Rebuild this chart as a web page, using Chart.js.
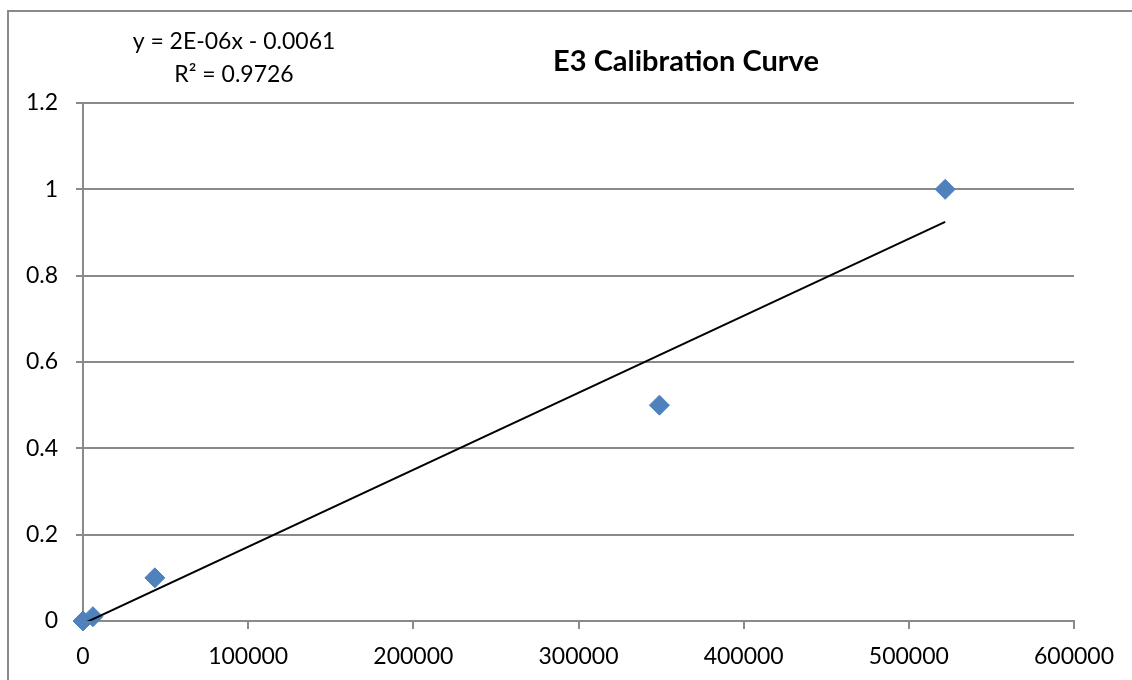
<!DOCTYPE html>
<html>
<head>
<meta charset="utf-8">
<script src="https://cdn.jsdelivr.net/npm/chart.js@4"></script>
<style>
  html, body { margin: 0; padding: 0; background: #fff; }
  #wrap { width: 1132px; height: 680px; position: relative; }
</style>
</head>
<body>
<div id="wrap"><canvas id="myChart"></canvas></div>
<script>
// data
const concentration = [0, 6000, 43500, 349000, 522000];
const response = [0, 0.01, 0.1, 0.5, 1];
const chartTitle = 'E3 Calibration Curve';
const equationText = 'y = 2E-06x - 0.0061';
const rSquaredText = 'R² = 0.9726';

// least squares trendline, like Excel does it
function fitLine(xs, ys) {
    const n = xs.length;
    const mx = xs.reduce((a, b) => a + b, 0) / n;
    const my = ys.reduce((a, b) => a + b, 0) / n;
    let sxy = 0, sxx = 0;
    for (let i = 0; i < n; i++) {
        sxy += (xs[i] - mx) * (ys[i] - my);
        sxx += (xs[i] - mx) * (xs[i] - mx);
    }
    const slope = sxy / sxx;
    return { slope: slope, intercept: my - slope * mx };
}

const fit = fitLine(concentration, response);
const xMin = Math.min(...concentration);
const xMax = Math.max(...concentration);
const trend = [
    { x: xMin, y: fit.slope * xMin + fit.intercept },
    { x: xMax, y: fit.slope * xMax + fit.intercept }
];
const points = concentration.map((x, i) => ({ x: x, y: response[i] }));

const gridGray = '#8a8a8a';
const font = 'Lato';

// frame, title and equation text, drawn on the canvas
const decorations = {
    id: 'decorations',
    afterDraw(chart) {
        const ctx = chart.ctx;
        ctx.save();
        ctx.strokeStyle = gridGray;
        ctx.lineWidth = 2;
        ctx.beginPath();
        ctx.moveTo(8, 680);
        ctx.lineTo(8, 11);
        ctx.lineTo(1132, 11);
        ctx.stroke();

        ctx.fillStyle = '#000';
        ctx.textAlign = 'center';
        ctx.textBaseline = 'middle';
        ctx.font = 'bold 29px ' + font;
        ctx.fillText(chartTitle, 686, 62);
        ctx.font = '23px ' + font;
        ctx.fillText(equationText, 234, 42);
        ctx.fillText(rSquaredText, 234, 75);
        ctx.restore();
    }
};

const ctx = document.getElementById('myChart');

new Chart(ctx, {
    type: 'scatter',
    data: {
        datasets: [{
            label: 'Linear trend',
            data: trend,
            showLine: true,
            borderColor: '#000',
            borderWidth: 2,
            pointRadius: 0,
            order: 0
        }, {
            label: 'E3',
            data: points,
            pointStyle: 'rectRot',
            pointRadius: 10,
            backgroundColor: '#4f81bd',
            borderColor: '#4f81bd',
            borderWidth: 1,
            clip: false,
            order: 1
        }]
    },
    options: {
        responsive: true,
        maintainAspectRatio: false,
        animation: false,
        layout: { padding: { top: 103, right: 58, left: 0, bottom: 0 } },
        plugins: {
            legend: { display: false },
            tooltip: { enabled: false }
        },
        scales: {
            x: {
                type: 'linear',
                min: 0,
                max: 600000,
                afterFit(scale) { scale.height = 59; },
                border: { color: gridGray, width: 2 },
                grid: { drawOnChartArea: false, color: gridGray, lineWidth: 2, tickLength: 8 },
                ticks: {
                    stepSize: 100000,
                    color: '#000',
                    padding: 14,
                    maxRotation: 0,
                    font: { family: font, size: 23 },
                    callback: v => String(v)
                }
            },
            y: {
                min: 0,
                max: 1.2,
                afterFit(scale) { scale.width = 83; },
                border: { color: gridGray, width: 2 },
                grid: { color: gridGray, lineWidth: 2, tickLength: 7 },
                ticks: {
                    stepSize: 0.2,
                    color: '#000',
                    padding: 18,
                    font: { family: font, size: 23 },
                    callback: v => String(Math.round(v * 10) / 10)
                }
            }
        }
    },
    plugins: [decorations]
});
</script>
</body>
</html>
